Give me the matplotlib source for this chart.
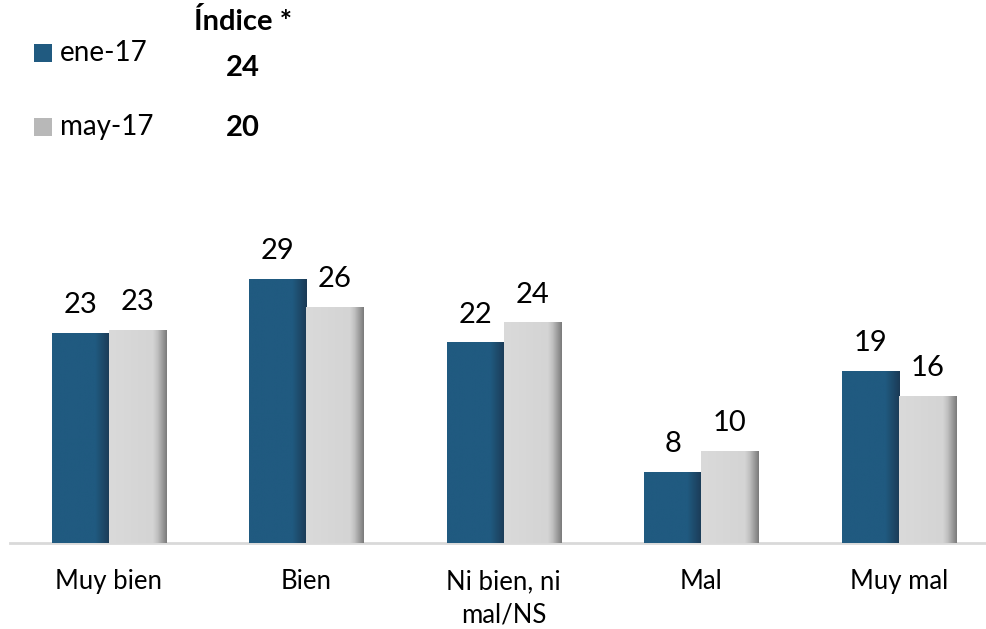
import numpy as np
import matplotlib.pyplot as plt
from matplotlib.colors import LinearSegmentedColormap
from matplotlib.patches import Rectangle

plt.rcParams['font.family'] = ['Lato', 'DejaVu Sans']

# Data
categories = ["Muy bien", "Bien", "Ni bien, ni\nmal/NS", "Mal", "Muy mal"]
series = ["ene-17", "may-17"]
ene_17 = [23.0, 29.0, 22.0, 7.8, 18.9]
may_17 = [23.4, 25.9, 24.2, 10.1, 16.1]
ene_labels = [23, 29, 22, 8, 19]
may_labels = [23, 26, 24, 10, 16]
indice = [24, 20]
series_colors = ["#205a80", "#b8b8b8"]

W, H = 987, 629
fig = plt.figure(figsize=(W / 100, H / 100), dpi=100)
ax = fig.add_axes([10 / W, 86 / H, 987.5 / W, 343 / H])

x = np.arange(len(categories))
w = 0.289

b1 = ax.bar(x - w / 2, ene_17, w, color="#205a80", zorder=2)
b2 = ax.bar(x + w / 2, may_17, w, color="#d9d9d9", zorder=2)

# gradient shading toward right edge of each bar
cm_blue = LinearSegmentedColormap.from_list(
    "b", [(0, "#205a80"), (0.75, "#205a80"), (1, "#1b3a55")])
cm_gray = LinearSegmentedColormap.from_list(
    "g", [(0, "#dadada"), (0.76, "#d4d4d4"), (0.84, "#c0c0c0"), (1, "#7a7a7a")])
grad = np.linspace(0, 1, 256).reshape(1, -1)
for bars, cmap in [(b1, cm_blue), (b2, cm_gray)]:
    for p in bars:
        x0, h, bw = p.get_x(), p.get_height(), p.get_width()
        ax.imshow(grad, cmap=cmap, extent=(x0, x0 + bw, 0, h),
                  aspect="auto", zorder=3)

for bars, labs in [(b1, ene_labels), (b2, may_labels)]:
    for p, lab in zip(bars, labs):
        ax.annotate(str(lab), (p.get_x() + p.get_width() / 2, p.get_height()),
                    xytext=(0, 11), textcoords="offset points",
                    ha="center", va="bottom", fontsize=21)

ax.set_xlim(-0.5, 4.5)
ax.set_ylim(0, 37.7)
ax.set_xticks(x)
ax.set_xticklabels(categories, fontsize=18.5, linespacing=1.4)
ax.tick_params(axis="x", length=0, pad=19)
ax.set_yticks([])
for s in ["top", "right", "left"]:
    ax.spines[s].set_visible(False)
ax.spines["bottom"].set_color("#d9d9d9")
ax.spines["bottom"].set_linewidth(2)

# legend and index
leg_y = [53, 127]
for yy, name, col in zip(leg_y, series, series_colors):
    fig.add_artist(Rectangle((34 / W, 1 - (yy + 9) / H), 18 / W, 18 / H,
                             facecolor=col, edgecolor="none",
                             transform=fig.transFigure))
    fig.text(60 / W, 1 - yy / H, name, fontsize=20, ha="left", va="center")

fig.text(243 / W, 1 - 22 / H, "Índice *", fontsize=21, fontweight="bold",
         ha="center", va="center")
for yy, v in zip([68, 128], indice):
    fig.text(243 / W, 1 - yy / H, str(v), fontsize=21, fontweight="bold",
             ha="center", va="center")

fig.savefig("out.png", dpi=100)
